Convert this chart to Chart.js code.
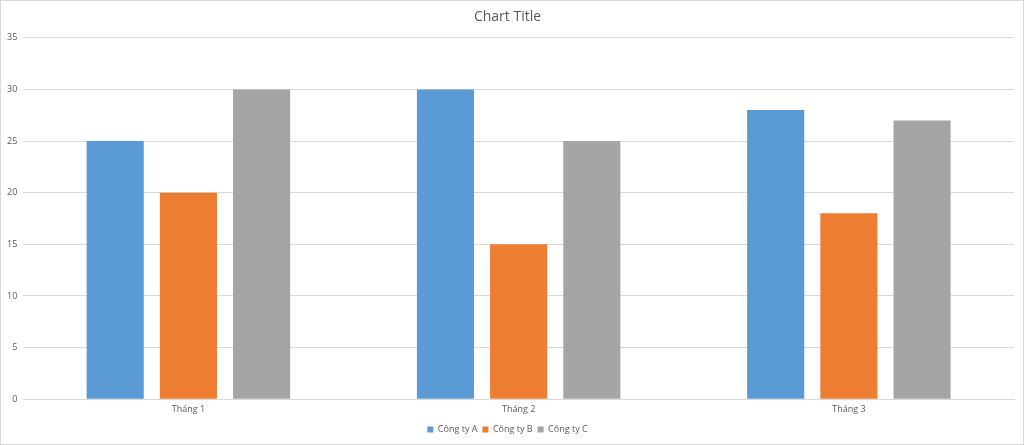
<!DOCTYPE html>
<html>
<head>
<meta charset="utf-8">
<script src="https://cdn.jsdelivr.net/npm/chart.js@4"></script>
<style>
  html, body { margin: 0; padding: 0; background: #fff; }
  #wrap { width: 1022px; height: 443px; border: 1px solid #d9d9d9; position: relative; }
</style>
</head>
<body>
<div id="wrap"><canvas id="barChart"></canvas></div>
<script>
// dữ liệu biểu đồ
const thang = ["Tháng 1", "Tháng 2", "Tháng 3"];
const congTyA = [25, 30, 28];
const congTyB = [20, 15, 18];
const congTyC = [30, 25, 27];
const yTicks = [0, 5, 10, 15, 20, 25, 30, 35];

const chu = "#595959";
const font = "'Open Sans', 'Liberation Sans', sans-serif";

new Chart(document.getElementById("barChart"), {
    type: "bar",
    data: {
        labels: thang,
        datasets: [
            { label: "Công ty A", data: congTyA, backgroundColor: "#5B9BD5" },
            { label: "Công ty B", data: congTyB, backgroundColor: "#ED7D31" },
            { label: "Công ty C", data: congTyC, backgroundColor: "#A5A5A5" }
        ]
    },
    options: {
        responsive: true,
        maintainAspectRatio: false,
        animation: false,
        categoryPercentage: 0.665,
        barPercentage: 0.78,
        layout: { padding: { left: 0, right: 9, top: 6, bottom: 0 } },
        plugins: {
            title: {
                display: true,
                text: "Chart Title",
                color: chu,
                font: { family: font, size: 14, weight: "normal" },
                padding: { top: 2, bottom: 12 }
            },
            legend: {
                position: "bottom",
                labels: {
                    color: chu,
                    font: { family: font, size: 9 },
                    boxWidth: 6,
                    boxHeight: 6,
                    padding: 5
                }
            },
            tooltip: { enabled: false }
        },
        scales: {
            x: {
                grid: { display: false, drawTicks: false },
                border: { color: "#d9d9d9" },
                ticks: { color: chu, font: { family: font, size: 9 }, padding: 5 }
            },
            y: {
                min: 0,
                max: 35,
                afterBuildTicks: axis => { axis.ticks = yTicks.map(v => ({ value: v })); },
                grid: { color: "#d9d9d9", drawTicks: false },
                border: { display: false },
                ticks: { color: chu, font: { family: font, size: 9 }, padding: 6 }
            }
        }
    }
});
</script>
</body>
</html>
